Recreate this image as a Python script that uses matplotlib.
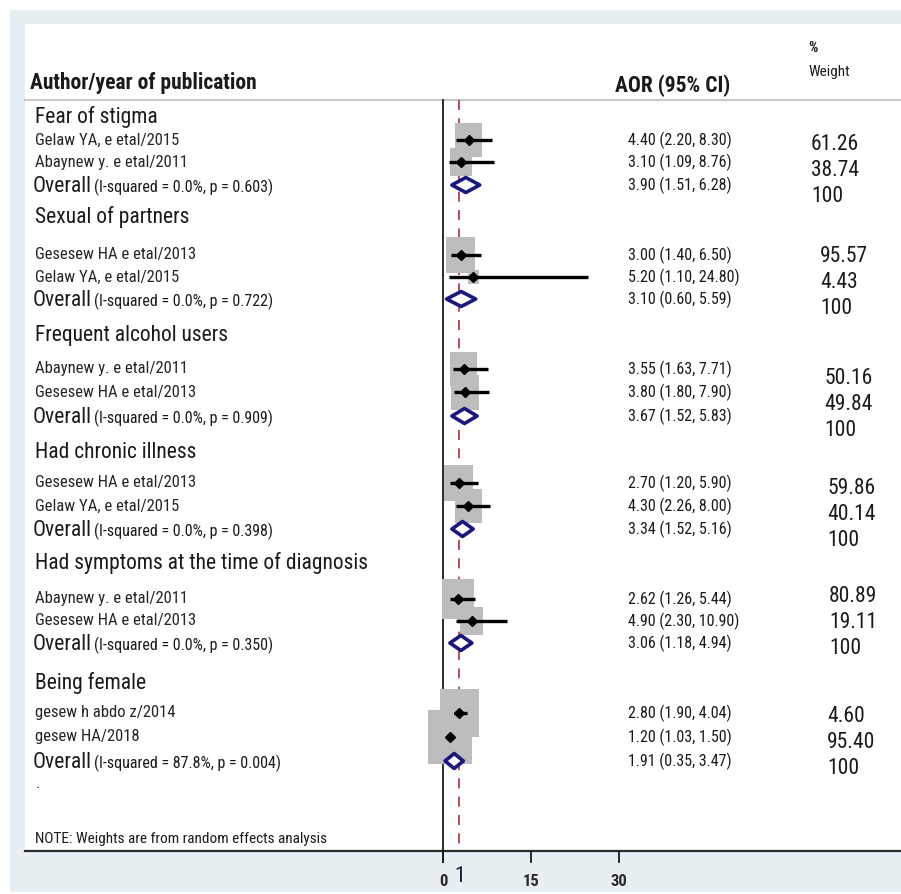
import matplotlib
matplotlib.use("Agg")
import numpy as np
import matplotlib.pyplot as plt
from matplotlib import font_manager
from matplotlib.patches import Rectangle, Polygon

# ---------------- data ----------------
groups = ["Fear of stigma", "Sexual of partners", "Frequent alcohol users",
          "Had chronic illness", "Had symptoms at the time of diagnosis",
          "Being female"]
studies = [
    ["Gelaw YA, e etal/2015", "Abaynew y. e etal/2011"],
    ["Gesesew HA e etal/2013", "Gelaw YA, e etal/2015"],
    ["Abaynew y. e etal/2011", "Gesesew HA e etal/2013"],
    ["Gesesew HA e etal/2013", "Gelaw YA, e etal/2015"],
    ["Abaynew y. e etal/2011", "Gesesew HA e etal/2013"],
    ["gesew h abdo z/2014", "gesew HA/2018"],
]
aor = [[4.40, 3.10], [3.00, 5.20], [3.55, 3.80], [2.70, 4.30], [2.62, 4.90], [2.80, 1.20]]
ci_low = [[2.20, 1.09], [1.40, 1.10], [1.63, 1.80], [1.20, 2.26], [1.26, 2.30], [1.90, 1.03]]
ci_high = [[8.30, 8.76], [6.50, 24.80], [7.71, 7.90], [5.90, 8.00], [5.44, 10.90], [4.04, 1.50]]
weights = [[61.26, 38.74], [95.57, 4.43], [50.16, 49.84], [59.86, 40.14],
           [80.89, 19.11], [4.60, 95.40]]
pooled = [3.90, 3.10, 3.67, 3.34, 3.06, 1.91]
pooled_low = [1.51, 0.60, 1.52, 1.52, 1.18, 0.35]
pooled_high = [6.28, 5.59, 5.83, 5.16, 4.94, 3.47]
i_squared = [0.0, 0.0, 0.0, 0.0, 0.0, 87.8]
p_het = [0.603, 0.722, 0.909, 0.398, 0.350, 0.004]
# weights that drive the grey box areas
box_weight = [[60, 40], [69, 10], [60, 64], [69, 60], [82, 43], [124, 158]]
overall_line = 2.8
x_ticks = [0, 15, 30]

# ---------------- layout (pixels) ----------------
W, H = 901, 894
X0, PXU = 443, 5.85          # pixel of AOR=0, pixels per AOR unit
group_y = [117, 217, 336, 453, 563, 683]
study_y = [[140, 162], [255, 277], [369, 392], [483, 506], [599, 621], [713, 737]]
overall_y = [185, 299, 416, 529, 643, 761]
weight_y0 = [144, 257, 379, 488, 597, 717]
weight_x = [811, 820, 824, 827, 829, 827]
WEIGHT_STEP = 26

available = {f.name for f in font_manager.fontManager.ttflist}
FONT = "Liberation Sans"
for cand in ["Liberation Sans Narrow", "Arial Narrow", "Roboto Condensed",
             "Liberation Sans"]:
    if cand in available:
        FONT = cand
        break
plt.rcParams["font.family"] = [FONT, "DejaVu Sans"]

TXT = "#1a1a1a"
GREY_BOX = "#bdbdbd"
NAVY = "#18187f"
RED = "#a8303e"

fig = plt.figure(figsize=(W / 100, H / 100), dpi=100)

# layout layer in pixel coordinates
lay = fig.add_axes([0, 0, 1, 1], zorder=0)
lay.set_xlim(0, W)
lay.set_ylim(H, 0)
lay.axis("off")

# plotting layer: x in AOR units, y in pixel rows
ax = fig.add_axes([0, 0, 1, 1], zorder=1)
ax.set_xlim(-X0 / PXU, (W - X0) / PXU)
ax.set_ylim(H, 0)
ax.axis("off")
ax.patch.set_alpha(0)

# panels
lay.add_patch(Rectangle((10, 10), W - 10, 882, facecolor="#e8eff2", edgecolor="none"))
lay.add_patch(Rectangle((25, 24), W - 25, 851 - 24, facecolor="white", edgecolor="none"))
lay.plot([25, W], [100, 100], color="#c9c9c9", lw=1.6)
lay.plot([25, W], [851, 851], color="#2a2a2a", lw=1.6)

# header
lay.text(30, 83, "Author/year of publication", fontsize=15.5, fontweight="bold",
         color=TXT, va="center", ha="left")
lay.text(615, 86, "AOR (95% CI)", fontsize=15.5, fontweight="bold",
         color=TXT, va="center", ha="left")
lay.text(808, 48, "%", fontsize=10.5, fontweight="bold", color=TXT, va="center")
lay.text(808, 72, "Weight", fontsize=11, color=TXT, va="center")

# axis, ticks and reference line
ax.plot([0, 0], [100, 862], color="#1a1a1a", lw=1.3, zorder=1)
for t in x_ticks:
    ax.plot([t, t], [851, 862], color="#1a1a1a", lw=1.3, zorder=1)
    ax.text(t, 881, f"{t}", fontsize=12, fontweight="bold", color="#2a2a2a",
            ha="center", va="center")
ax.plot([overall_line, overall_line], [100, 851], color=RED, lw=1.2,
        dashes=(6, 5), zorder=1)
ax.text(overall_line, 877, "1", fontsize=16, color="#1c1c48",
        ha="center", va="center")

BOX_K = 3.5  # box side in pixels per sqrt(weight)
for g in range(len(groups)):
    lay.text(35, group_y[g], groups[g], fontsize=15.5, color=TXT,
             va="center", ha="left")
    for k in range(2):
        y = study_y[g][k]
        e, lo, hi = aor[g][k], ci_low[g][k], ci_high[g][k]
        lay.text(35, y, studies[g][k], fontsize=12, color="#262626",
                 va="center", ha="left")
        side = BOX_K * np.sqrt(box_weight[g][k])
        wu = side / PXU
        hh = side * 1.25
        ax.add_patch(Rectangle((e - wu / 2, y - hh / 2), wu, hh,
                               facecolor=GREY_BOX, edgecolor="none", zorder=2))
        lay.text(628, y, f"{e:.2f} ({lo:.2f}, {hi:.2f})", fontsize=11.5,
                 color=TXT, va="center", ha="left")
        lay.text(weight_x[g], weight_y0[g] + k * WEIGHT_STEP, f"{weights[g][k]:.2f}",
                 fontsize=15.5, color=TXT, va="center", ha="left")
    for k in range(2):
        y = study_y[g][k]
        ax.plot([ci_low[g][k], ci_high[g][k]], [y, y], color="black", lw=2.4,
                solid_capstyle="butt", zorder=3)
        ax.plot(aor[g][k], y, marker="D", ms=5.5, color="black", zorder=4)

    # pooled estimate
    y = overall_y[g]
    e, lo, hi = pooled[g], pooled_low[g], pooled_high[g]
    ax.add_patch(Polygon([(lo, y), (e, y - 7.5), (hi, y), (e, y + 7.5)], closed=True,
                         facecolor="white", edgecolor=NAVY, lw=2.6,
                         joinstyle="round", zorder=5))
    base = y + 7
    ov = lay.text(33, base, "Overall", fontsize=15.5, color=TXT,
                  va="baseline", ha="left")
    lay.annotate(f"(I-squared = {i_squared[g]:.1f}%, p = {p_het[g]:.3f})",
                 xy=(1, base), xycoords=(ov, "data"), xytext=(1.5, 0),
                 textcoords="offset points", fontsize=11.5, color=TXT,
                 va="baseline", ha="left")
    lay.text(628, y, f"{e:.2f} ({lo:.2f}, {hi:.2f})", fontsize=11.5,
             color=TXT, va="center", ha="left")
    lay.text(weight_x[g], weight_y0[g] + 2 * WEIGHT_STEP, "100",
             fontsize=15.5, color=TXT, va="center", ha="left")

lay.text(36, 784, ".", fontsize=11, color=TXT, va="center")
lay.text(35, 839, "NOTE: Weights are from random effects analysis", fontsize=11,
         color=TXT, va="center", ha="left")

fig.savefig("out.png", dpi=100)
